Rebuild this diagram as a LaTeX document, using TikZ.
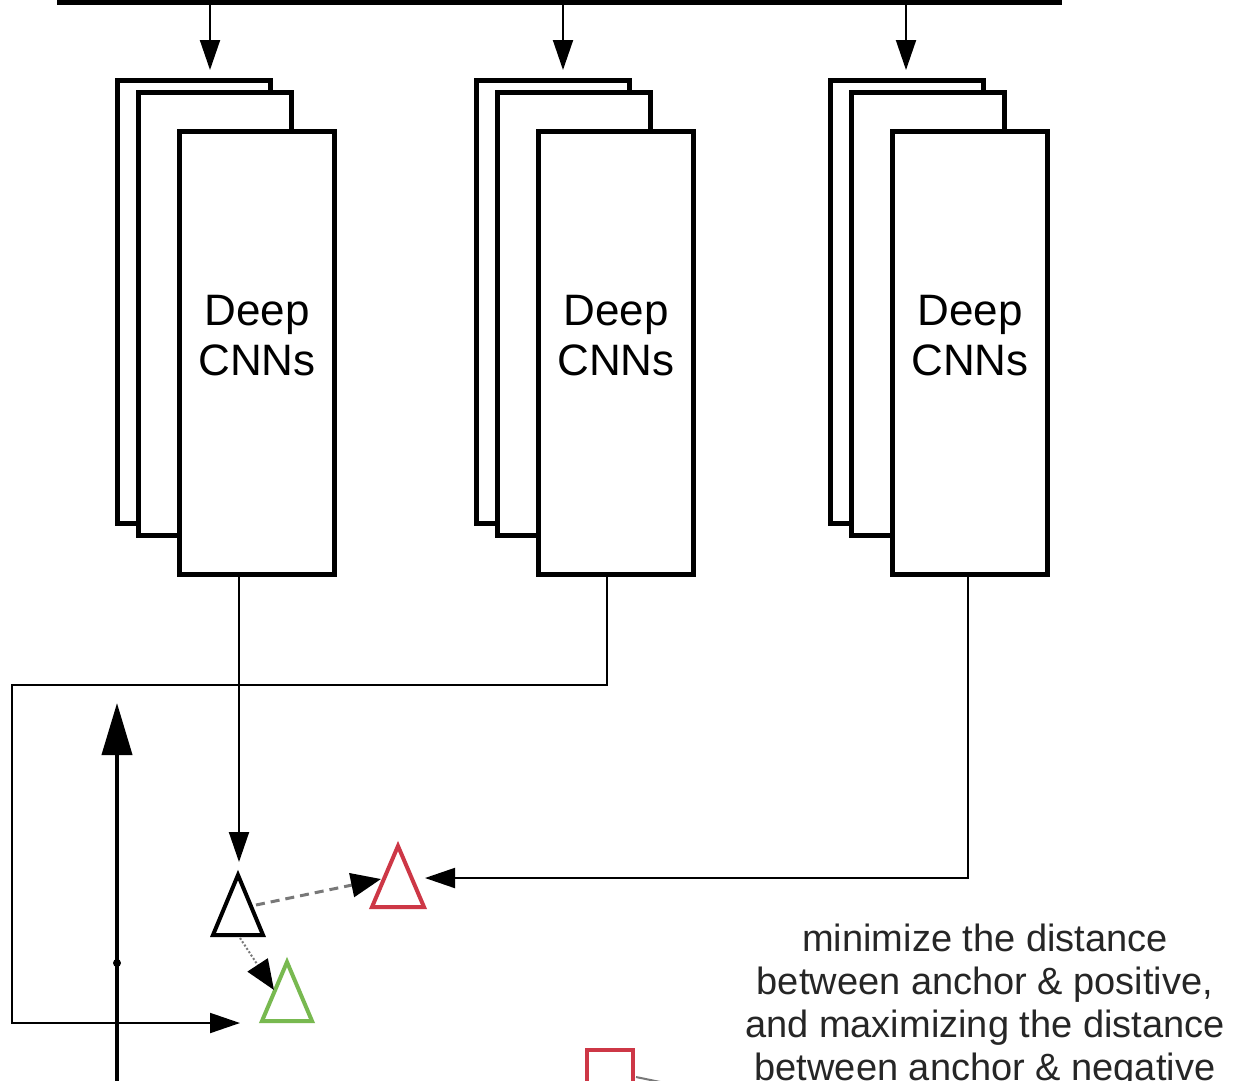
\documentclass[tikz,border=0pt]{standalone}
\usepackage{fontspec}
\setmainfont{Liberation Sans}
\usetikzlibrary{arrows.meta,calc}
\definecolor{tred}{RGB}{205,55,70}
\definecolor{tgreen}{RGB}{120,185,80}
\definecolor{dashgray}{RGB}{120,120,120}
\begin{document}
\begin{tikzpicture}[x=1pt,y=-1pt,
  cnn/.style={draw, line width=5pt, fill=white, minimum width=153pt, minimum height=443pt, inner sep=0pt, anchor=north west},
  lbl/.style={align=center, font=\fontsize{44}{50}\selectfont, inner sep=0pt},
  con/.style={line width=2pt, -{Triangle[length=30pt,width=20pt]}},
  tri/.style={line width=4pt, line join=miter},
  note/.style={align=center, font=\fontsize{38}{43}\selectfont, inner sep=0pt, text=black!85}
]
\clip (0,0) rectangle (1233,1080);
\fill[white] (0,0) rectangle (1233,1080);

% top bar
\node[fill=black, minimum width=1005pt, minimum height=5pt, inner sep=0pt, anchor=north west] (bar) at (57,0) {};

% three stacks of CNN boxes
\foreach \g/\dx in {1/0, 2/359, 3/713} {
  \node[cnn] (b\g) at (115+\dx,78) {};
  \node[cnn] (m\g) at (136+\dx,90) {};
  \node[cnn, minimum width=155pt] (f\g) at (177+\dx,129) {};
  \node[lbl] (t\g) at ($(f\g.center)+(0,-17)$) {Deep\\CNNs};
}

% arrows from the bar
\coordinate (a1) at (210,70);
\coordinate (a2) at (563,70);
\coordinate (a3) at (906,70);
\foreach \i in {1,2,3} { \draw[con] (a\i |- bar.south) -- (a\i); }

% triangles
\coordinate (anc) at (238,905);
\coordinate (neg) at (398,877);
\coordinate (pos) at (287,992);
\draw[tri] (238,875) -- (263,935) -- (213,935) -- cycle;
\draw[tri, tred] (398,846) -- (424,907) -- (372,907) -- cycle;
\draw[tri, tgreen] (287,962) -- (312,1021) -- (262,1021) -- cycle;

% connectors from the CNNs
\coordinate (ain) at (239,862);
\draw[con] (ain |- f1.south) -- (ain);

\coordinate (p2) at (607,685);
\coordinate (q2) at (12,685);
\coordinate (gin) at (240,1023);
\draw[con] (p2 |- f2.south) -- (p2) -- (q2) |- (gin);

\coordinate (p3) at (968,878);
\coordinate (rin) at (425,878);
\draw[con] (p3 |- f3.south) -- (p3) -- (rin);

% distance arrows
\coordinate (ds) at (256,905);
\coordinate (de) at (381,879);
\draw[line width=3pt, dashgray, dash pattern=on 9pt off 6pt, -{Triangle[length=30pt,width=24pt]}, arrows={-{Triangle[length=30pt,width=24pt,color=black]}}] (ds) -- (de);
\coordinate (ps) at (240,938);
\coordinate (pe) at (274,990);
\draw[line width=2pt, dashgray, dotted, arrows={-{Triangle[length=30pt,width=24pt,color=black]}}] (ps) -- (pe);

% vertical axis
\coordinate (ax0) at (117,1090);
\coordinate (ax1) at (117,703);
\draw[line width=4pt, -{Triangle[length=52pt,width=30pt]}] (ax0) -- (ax1);
\fill (117,963) circle (4pt);

% partial red square and line at the bottom
\draw[line width=4pt, tred] (587,1090) -- (587,1050) -- (633,1050) -- (633,1090);
\draw[line width=2pt, dashgray] (636,1077) -- (670,1084);

% note text
\node[note, anchor=north] (txt) at (985,924) {minimize the distance\\between anchor \& positive,\\and maximizing the distance\\between anchor \& negative};
\end{tikzpicture}
\end{document}
